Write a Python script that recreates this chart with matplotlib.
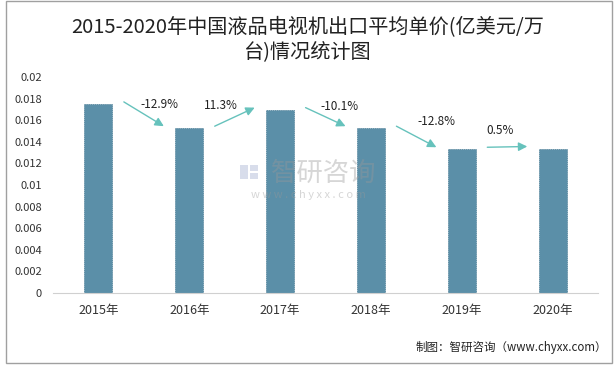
import matplotlib.pyplot as plt
from matplotlib.patches import Rectangle
from matplotlib.ticker import FuncFormatter

plt.rcParams['font.family'] = ['Noto Sans CJK SC', 'DejaVu Sans']

years = ['2015年', '2016年', '2017年', '2018年', '2019年', '2020年']
prices = [0.0175, 0.01525, 0.01697, 0.01525, 0.0133, 0.01337]
changes = ['-12.9%', '11.3%', '-10.1%', '-12.8%', '0.5%']
yticks = [0, 0.002, 0.004, 0.006, 0.008, 0.01, 0.012, 0.014, 0.016, 0.018, 0.02]

bar_color = '#5b8fa8'
arrow_color = '#66c2bc'
# label offsets from arrow midpoint (x in categories, y in data units)
label_dx = [0.17, -0.15, 0.15, 0.22, -0.08]
label_dy = [0.0009, 0.0011, 0.0010, 0.0014, 0.0015]

fig = plt.figure(figsize=(6.16, 3.67), dpi=100)
ax = fig.add_axes([0.086, 0.2016, 0.885, 0.5884])

x = list(range(len(years)))
ax.bar(x, prices, width=0.31, color=bar_color, edgecolor='#4a7c94', linewidth=0.5, linestyle=(0, (2, 1)))
ax.set_xlim(-0.5, len(years) - 0.5)
ax.set_ylim(0, 0.02)
ax.set_yticks(yticks)
ax.yaxis.set_major_formatter(FuncFormatter(lambda v, p: '%g' % v))
ax.set_xticks(x)
ax.set_xticklabels(years)
ax.tick_params(axis='y', length=0, labelsize=8, labelcolor='#333333', pad=8)
ax.tick_params(axis='x', length=0, labelsize=9, labelcolor='#333333', pad=8)
for s in ['top', 'right', 'left']:
    ax.spines[s].set_visible(False)
ax.spines['bottom'].set_color('#d0d0d0')

for i, lab in enumerate(changes):
    x0, x1 = i + 0.28, i + 0.72
    y0, y1 = prices[i] + 0.0002, prices[i + 1] + 0.0002
    ax.annotate('', xy=(x1, y1), xytext=(x0, y0),
                arrowprops=dict(arrowstyle='-|>', color=arrow_color, lw=1.0,
                                mutation_scale=13, shrinkA=0, shrinkB=0))
    ax.text((x0 + x1) / 2 + label_dx[i], (y0 + y1) / 2 + label_dy[i], lab,
            ha='center', va='center', fontsize=8.5, color='#222222')

# title
fig.text(0.5, 0.926, '2015-2020年中国液品电视机出口平均单价(亿美元/万',
         ha='center', va='center', fontsize=14.5, color='#222222')
fig.text(0.5, 0.858, '台)情况统计图',
         ha='center', va='center', fontsize=14.5, color='#222222')

# watermark
fig.text(0.525, 0.527, '智研咨询', ha='center', va='center', fontsize=19,
         color='#999999', alpha=0.4)
fig.text(0.5, 0.469, 'w w w . c h y x x . c o m', ha='center', va='center',
         fontsize=8, color='#999999', alpha=0.4)
for rx, ry, rw, rh in [(240, 165, 8, 14), (250, 165, 8, 6), (250, 173, 8, 6)]:
    fig.patches.append(Rectangle((rx / 616, 1 - (ry + rh) / 367), rw / 616, rh / 367,
                                 transform=fig.transFigure, color='#aab4d4',
                                 alpha=0.45, linewidth=0))

# footer
fig.text(0.985, 0.054, '制图：智研咨询（www.chyxx.com）', ha='right', va='center',
         fontsize=8.3, color='#222222')

# frame
fig.patches.append(Rectangle((6 / 616, 1 - 363 / 367), 606 / 616, 362 / 367,
                             transform=fig.transFigure, fill=False,
                             edgecolor='#a0a0a0', linewidth=1))

fig.savefig('out.png', dpi=100)
